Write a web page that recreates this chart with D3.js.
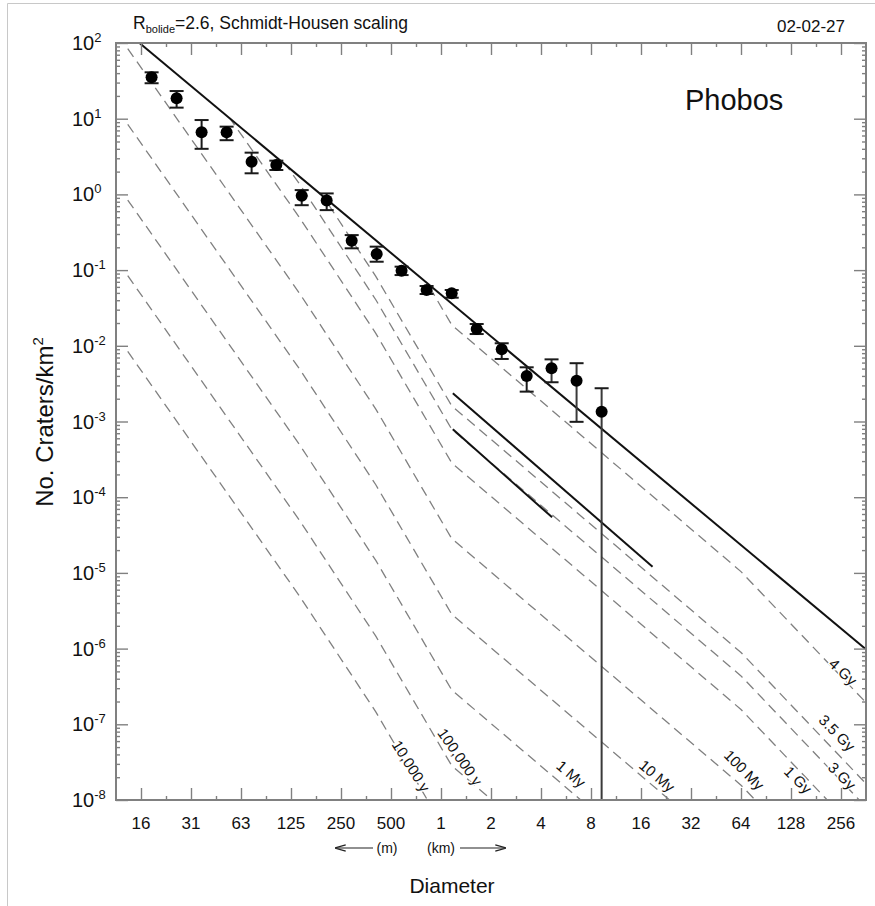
<!DOCTYPE html>
<html>
<head>
<meta charset="utf-8">
<script src="https://cdn.jsdelivr.net/npm/d3@7"></script>
<style>
  body { margin: 0; background: #fff; }
  text { font-family: "Liberation Sans", Arial, sans-serif; fill: #111; }
</style>
</head>
<body>
<div id="chart"></div>
<script>
// crater counts in sqrt(2) diameter bins (km, craters/km^2)
var diam = [0.0181, 0.0256, 0.0362, 0.0512, 0.0724, 0.102, 0.145, 0.205, 0.290, 0.410,
            0.579, 0.819, 1.16, 1.64, 2.32, 3.28, 4.63, 6.55, 9.27];
var density = [35.2, 18.6, 6.6, 6.6, 2.7, 2.44, 0.96, 0.83, 0.245, 0.163,
               0.098, 0.0546, 0.0493, 0.0167, 0.0090, 0.0040, 0.00504, 0.00346, 0.00135];
var errHi = [41, 23.2, 9.6, 7.85, 3.56, 2.79, 1.14, 1.03, 0.29, 0.204,
             0.111, 0.0617, 0.0546, 0.0194, 0.0108, 0.0052, 0.00662, 0.00589, 0.00275];
var errLo = [29.4, 14.0, 4.0, 5.2, 1.9, 2.1, 0.72, 0.62, 0.194, 0.129,
             0.086, 0.0483, 0.0432, 0.0143, 0.0067, 0.00248, 0.0033, 0.00099, 1e-9];

// saturation line and the two short solid lines
var satD = [0.0153, 357], satN = [100, 1e-6];
var lineAD = [1.178, 18.78], lineAN = [0.00236, 1.21e-5];
var lineBD = [1.178, 4.666], lineBN = [7.89e-4, 5.42e-5];

// isochrons
var isoDiam = [0.013, 0.141, 0.405, 1.16, 64, 357];
var isoAges = ['10,000 y', '100,000 y', '1 My', '10 My', '100 My', '1 Gy', '3 Gy', '3.5 Gy', '4 Gy'];
var iso10ky  = [8.43e-3, 4.90e-6, 1.46e-7, 2.84e-9, 1.57e-12, 3.00e-14];
var iso100ky = [8.43e-2, 4.90e-5, 1.46e-6, 2.84e-8, 1.57e-11, 3.00e-13];
var iso1My   = [0.843, 4.90e-4, 1.46e-5, 2.84e-7, 1.57e-10, 3.00e-12];
var iso10My  = [8.43, 4.90e-3, 1.46e-4, 2.84e-6, 1.57e-9, 3.00e-11];
var iso100My = [84.3, 4.90e-2, 1.46e-3, 2.84e-5, 1.57e-8, 3.00e-10];
var iso1Gy   = [843, 0.490, 1.46e-2, 2.84e-4, 1.57e-7, 3.00e-9];
var iso3Gy   = [2343, 1.36, 4.06e-2, 7.90e-4, 4.36e-7, 8.34e-9];
var iso35Gy  = [4771, 2.77, 8.26e-2, 1.61e-3, 8.89e-7, 1.70e-8];
var iso4Gy   = [56060, 32.6, 0.971, 1.89e-2, 1.04e-5, 2.00e-7];

var xMajor = [1/64, 1/32, 1/16, 1/8, 1/4, 1/2, 1, 2, 4, 8, 16, 32, 64, 128, 256];
var xTickLabels = ['16', '31', '63', '125', '250', '500', '1', '2', '4', '8', '16', '32', '64', '128', '256'];
var yMajor = [1e-8, 1e-7, 1e-6, 1e-5, 1e-4, 1e-3, 1e-2, 1e-1, 1e0, 1e1, 1e2];
var yExp = ['-8', '-7', '-6', '-5', '-4', '-3', '-2', '-1', '0', '1', '2'];

// label placement: [cx, cy, rotation]
var isoLabelPos = [[411, 766, 58], [460, 757, 55], [571, 774, 40], [657, 776, 40], [744, 770, 45],
                   [798, 780, 45], [842, 776, 45], [837, 733, 45], [843, 672, 43]];

var width = 875, height = 906;
var plotL = 116, plotR = 866, plotT = 43, plotB = 800;

var x = d3.scaleLog().base(2).domain([Math.pow(2, -6.5), Math.pow(2, 8.5)]).range([plotL, plotR]);
var y = d3.scaleLog().domain([1e-8, 1e2]).range([plotB, plotT]);

var svg = d3.select('#chart').append('svg')
  .attr('width', width)
  .attr('height', height);

// outer border
svg.append('path').attr('d', 'M7.5,906V3.5H875').attr('fill', 'none').attr('stroke', '#c8c8c8');

var defs = svg.append('defs');
defs.append('clipPath').attr('id', 'plotClip')
  .append('rect').attr('x', plotL).attr('y', plotT).attr('width', plotR - plotL).attr('height', plotB - plotT);

// area below saturation line
var satPts = satD.map(function(d, i) { return [x(d), y(satN[i])]; });
defs.append('clipPath').attr('id', 'satClip')
  .append('path')
  .attr('d', 'M' + plotL + ',' + plotT + 'L' + satPts[0][0] + ',' + plotT + 'L' + satPts[0][0] + ',' + satPts[0][1] +
    'L' + satPts[1][0] + ',' + satPts[1][1] + 'L' + plotR + ',' + plotB + 'L' + plotL + ',' + plotB + 'Z');

var line = d3.line()
  .x(function(d) { return x(d[0]); })
  .y(function(d) { return y(d[1]); });

function pairs(ds, ns) { return ds.map(function(d, i) { return [d, ns[i]]; }); }

// isochrons
var isoSeries = [iso10ky, iso100ky, iso1My, iso10My, iso100My, iso1Gy, iso3Gy, iso35Gy, iso4Gy];
var isoG = svg.append('g').attr('clip-path', 'url(#plotClip)')
  .append('g').attr('clip-path', 'url(#satClip)');
isoG.selectAll('path.iso')
  .data(isoSeries)
  .enter().append('path')
  .attr('class', 'iso')
  .attr('d', function(s) { return line(pairs(isoDiam, s)); })
  .attr('fill', 'none')
  .attr('stroke', '#808080')
  .attr('stroke-width', 1.3)
  .attr('stroke-dasharray', '10,6');

// solid lines
var solidG = svg.append('g').attr('clip-path', 'url(#plotClip)');
[[satD, satN], [lineAD, lineAN], [lineBD, lineBN]].forEach(function(l) {
  solidG.append('path')
    .attr('d', line(pairs(l[0], l[1])))
    .attr('fill', 'none')
    .attr('stroke', '#111')
    .attr('stroke-width', 2);
});

// isochron labels
svg.append('g').selectAll('text')
  .data(isoAges)
  .enter().append('text')
  .attr('transform', function(d, i) {
    var p = isoLabelPos[i];
    return 'translate(' + p[0] + ',' + p[1] + ') rotate(' + p[2] + ')';
  })
  .attr('text-anchor', 'middle')
  .attr('dy', '0.35em')
  .style('font-size', '15px')
  .style('paint-order', 'stroke')
  .style('stroke', '#fff')
  .style('stroke-width', 3)
  .text(function(d) { return d; });

// data points with error bars
var pts = svg.append('g').attr('clip-path', 'url(#plotClip)');
var node = pts.selectAll('g.pt')
  .data(diam)
  .enter().append('g').attr('class', 'pt');
node.append('line')
  .attr('x1', function(d) { return x(d); })
  .attr('x2', function(d) { return x(d); })
  .attr('y1', function(d, i) { return y(errHi[i]); })
  .attr('y2', function(d, i) { return y(errLo[i]); })
  .attr('stroke', function(d, i) { return i > 15 ? '#3a3a3a' : '#1a1a1a'; })
  .attr('stroke-width', 2);
node.append('line')
  .attr('x1', function(d) { return x(d) - 7; })
  .attr('x2', function(d) { return x(d) + 7; })
  .attr('y1', function(d, i) { return y(errHi[i]); })
  .attr('y2', function(d, i) { return y(errHi[i]); })
  .attr('stroke', '#1a1a1a').attr('stroke-width', 2);
node.append('line')
  .attr('x1', function(d) { return x(d) - 7; })
  .attr('x2', function(d) { return x(d) + 7; })
  .attr('y1', function(d, i) { return y(errLo[i]); })
  .attr('y2', function(d, i) { return y(errLo[i]); })
  .attr('stroke', '#1a1a1a').attr('stroke-width', 2);
node.append('circle')
  .attr('cx', function(d) { return x(d); })
  .attr('cy', function(d, i) { return y(density[i]); })
  .attr('r', 6)
  .attr('fill', '#000');

// axes
var xMinor = xMajor.map(function(v) { return v * Math.SQRT2; }).filter(function(v) { return x(v) < plotR - 2; });
var yMinor = [];
yMajor.slice(0, -1).forEach(function(p) { for (var m = 2; m < 10; m++) yMinor.push(m * p); });

function styleAxis(g) {
  g.select('.domain').remove();
  g.selectAll('.tick line').attr('stroke', '#808080').attr('stroke-width', 1.4);
  g.selectAll('.tick text').remove();
}
var axes = [
  [d3.axisBottom(x).tickValues(xMajor).tickSize(-12), 'translate(0,' + plotB + ')'],
  [d3.axisBottom(x).tickValues(xMinor).tickSize(-4), 'translate(0,' + plotB + ')'],
  [d3.axisTop(x).tickValues(xMajor).tickSize(-12), 'translate(0,' + plotT + ')'],
  [d3.axisTop(x).tickValues(xMinor).tickSize(-4), 'translate(0,' + plotT + ')'],
  [d3.axisLeft(y).tickValues(yMajor).tickSize(-12), 'translate(' + plotL + ',0)'],
  [d3.axisLeft(y).tickValues(yMinor).tickSize(-4), 'translate(' + plotL + ',0)'],
  [d3.axisRight(y).tickValues(yMajor).tickSize(-12), 'translate(' + plotR + ',0)'],
  [d3.axisRight(y).tickValues(yMinor).tickSize(-4), 'translate(' + plotR + ',0)']
];
axes.forEach(function(a) {
  svg.append('g').attr('transform', a[1]).call(a[0]).call(styleAxis);
});

svg.append('rect')
  .attr('x', plotL).attr('y', plotT)
  .attr('width', plotR - plotL).attr('height', plotB - plotT)
  .attr('fill', 'none').attr('stroke', '#808080').attr('stroke-width', 2);

// x tick labels
svg.append('g').selectAll('text')
  .data(xMajor)
  .enter().append('text')
  .attr('x', function(d) { return x(d); })
  .attr('y', 829)
  .attr('text-anchor', 'middle')
  .style('font-size', '17px')
  .text(function(d, i) { return xTickLabels[i]; });

// y tick labels
var yl = svg.append('g').selectAll('text')
  .data(yMajor)
  .enter().append('text')
  .attr('x', 72)
  .attr('y', function(d) { return y(d) + 7; })
  .style('font-size', '20px');
yl.append('tspan').text('10');
yl.append('tspan')
  .attr('dy', -8)
  .style('font-size', '13px')
  .text(function(d, i) { return yExp[i]; });

// axis titles
var yt = svg.append('text')
  .attr('transform', 'translate(53,422) rotate(-90)')
  .attr('text-anchor', 'middle')
  .style('font-size', '24px');
yt.append('tspan').text('No. Craters/km');
yt.append('tspan').attr('dy', -10).style('font-size', '15px').text('2');

svg.append('text')
  .attr('x', 452).attr('y', 893)
  .attr('text-anchor', 'middle')
  .style('font-size', '21px')
  .text('Diameter');

// (m) (km) arrows
var arrowDefs = defs.append('marker')
  .attr('id', 'arr').attr('viewBox', '0 0 10 10')
  .attr('refX', 9).attr('refY', 5)
  .attr('markerWidth', 9).attr('markerHeight', 9)
  .attr('orient', 'auto-start-reverse');
arrowDefs.append('path').attr('d', 'M0,2L10,5L0,8').attr('fill', 'none').attr('stroke', '#222').attr('stroke-width', 1.2);
svg.append('line').attr('x1', 336).attr('x2', 373).attr('y1', 848).attr('y2', 848)
  .attr('stroke', '#222').attr('stroke-width', 1.2).attr('marker-start', 'url(#arr)');
svg.append('line').attr('x1', 460).attr('x2', 505).attr('y1', 848).attr('y2', 848)
  .attr('stroke', '#222').attr('stroke-width', 1.2).attr('marker-end', 'url(#arr)');
svg.append('text').attr('x', 387).attr('y', 853).attr('text-anchor', 'middle').style('font-size', '14px').text('(m)');
svg.append('text').attr('x', 441).attr('y', 853).attr('text-anchor', 'middle').style('font-size', '14px').text('(km)');

// header texts
var title = svg.append('text').attr('x', 133).attr('y', 29).style('font-size', '17.5px');
title.append('tspan').text('R');
title.append('tspan').attr('dy', 4).style('font-size', '11px').text('bolide');
title.append('tspan').attr('dy', -4).text('=2.6, Schmidt-Housen scaling');

svg.append('text').attr('x', 845).attr('y', 32).attr('text-anchor', 'end').style('font-size', '17px').text('02-02-27');
svg.append('text').attr('x', 685).attr('y', 110).style('font-size', '29px').text('Phobos');
</script>
</body>
</html>
